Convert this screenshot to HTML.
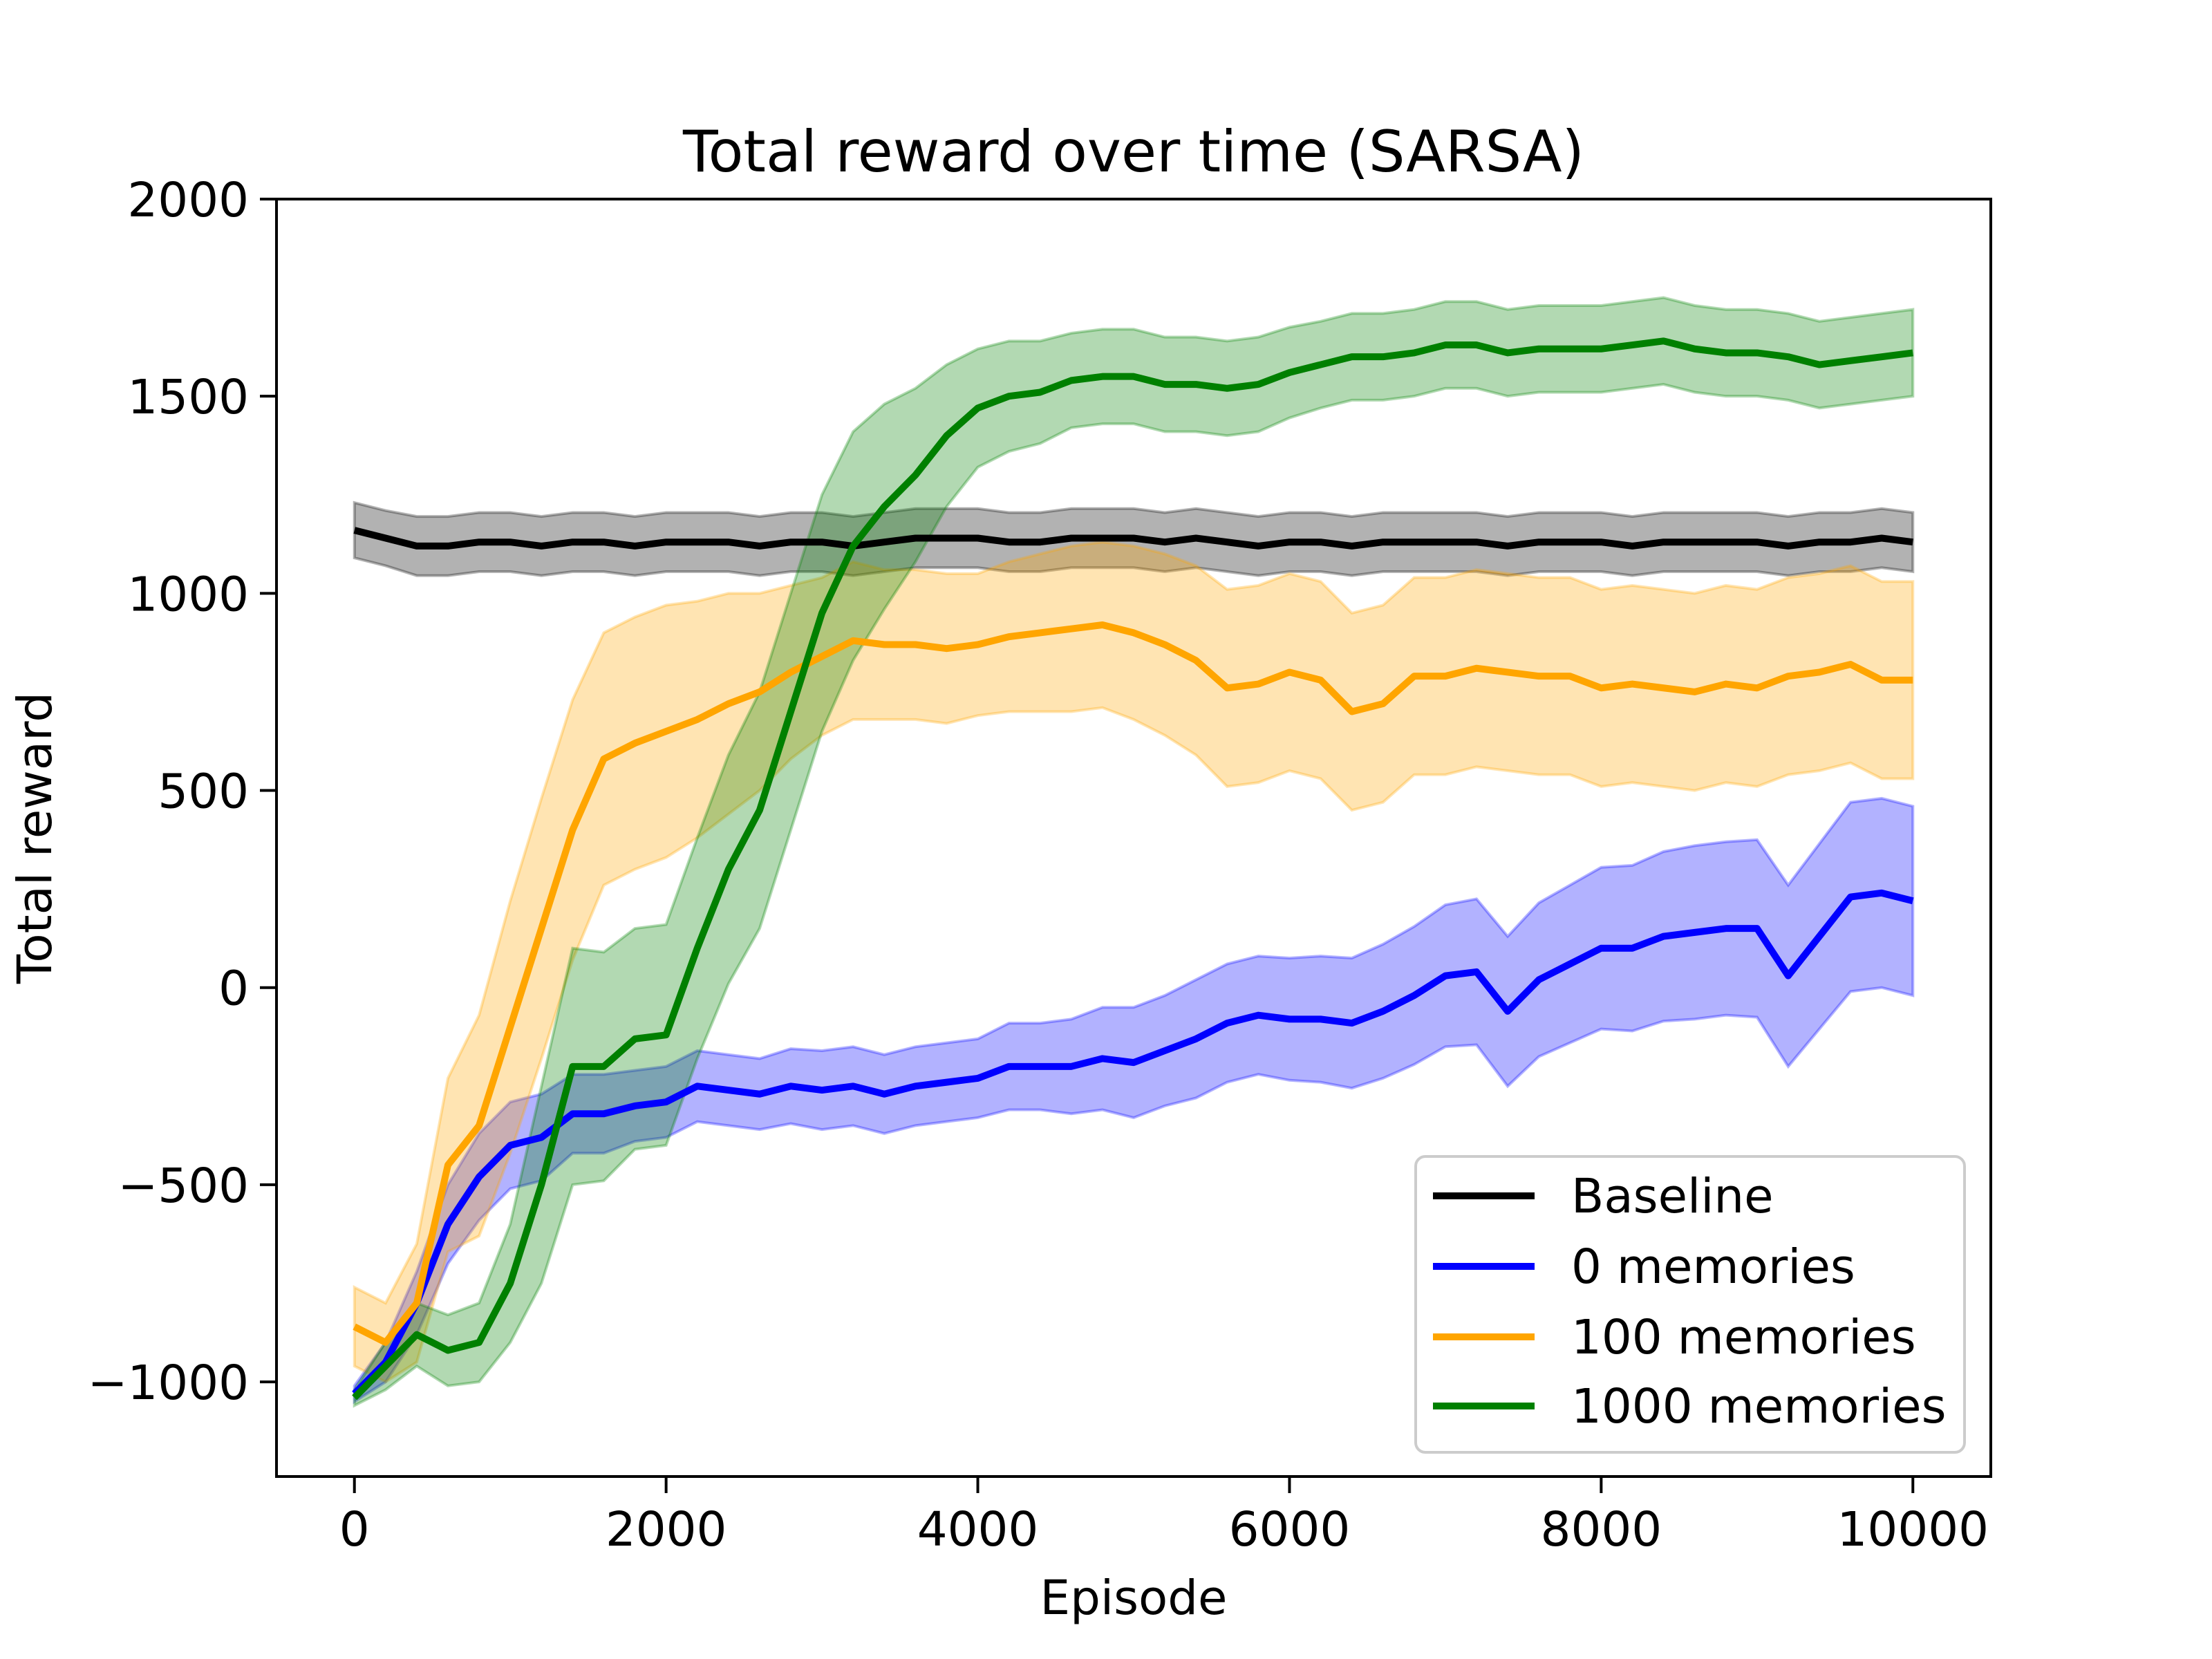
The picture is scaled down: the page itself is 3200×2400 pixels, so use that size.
<!DOCTYPE html>
<html><head><meta charset="utf-8"><style>
body{margin:0;background:#fff}
svg{display:block;font-family:"DejaVu Sans","Liberation Sans",sans-serif}
</style></head><body>
<svg id="chart" width="3200" height="2400" viewBox="0 0 3200 2400" xmlns="http://www.w3.org/2000/svg">
<rect width="3200" height="2400" fill="#fff"/>
<text x="1640" y="248" font-size="83" text-anchor="middle">Total reward over time (SARSA)</text>
<g id="plot"></g>
<text x="1640" y="2335" font-size="69" text-anchor="middle">Episode</text>
<text transform="translate(74,1212) rotate(-90)" font-size="69" text-anchor="middle">Total reward</text>
<g>
<rect x="2048" y="1673" width="794" height="428" rx="14" fill="#fff" fill-opacity="0.8" stroke="#ccc" stroke-width="4"/>
<line x1="2073" y1="1730" x2="2220" y2="1730" stroke="#000" stroke-width="10"/>
<text x="2273" y="1754" font-size="69">Baseline</text>
<line x1="2073" y1="1832" x2="2220" y2="1832" stroke="#0000ff" stroke-width="10"/>
<text x="2273" y="1856" font-size="69">0 memories</text>
<line x1="2073" y1="1934" x2="2220" y2="1934" stroke="#ffa500" stroke-width="10"/>
<text x="2273" y="1958" font-size="69">100 memories</text>
<line x1="2073" y1="2034" x2="2220" y2="2034" stroke="#008000" stroke-width="10"/>
<text x="2273" y="2058" font-size="69">1000 memories</text>
</g>
</svg>
<script>
const episodes=[0,200,400,600,800,1000,1200,1400,1600,1800,2000,2200,2400,2600,2800,3000,3200,3400,3600,3800,4000,4200,4400,4600,4800,5000,5200,5400,5600,5800,6000,6200,6400,6600,6800,7000,7200,7400,7600,7800,8000,8200,8400,8600,8800,9000,9200,9400,9600,9800,10000];
const baselineMean=[1160,1140,1120,1120,1130,1130,1120,1130,1130,1120,1130,1130,1130,1120,1130,1130,1120,1130,1140,1140,1140,1130,1130,1140,1140,1140,1130,1140,1130,1120,1130,1130,1120,1130,1130,1130,1130,1120,1130,1130,1130,1120,1130,1130,1130,1130,1120,1130,1130,1140,1130];
const baselineHalf=[70,70,75,75,75,75,75,75,75,75,75,75,75,75,75,75,75,75,75,75,75,75,75,75,75,75,75,75,75,75,75,75,75,75,75,75,75,75,75,75,75,75,75,75,75,75,75,75,75,75,75];
const blueMean=[-1030,-950,-800,-600,-480,-400,-380,-320,-320,-300,-290,-250,-260,-270,-250,-260,-250,-270,-250,-240,-230,-200,-200,-200,-180,-190,-160,-130,-90,-70,-80,-80,-90,-60,-20,30,40,-60,20,60,100,100,130,140,150,150,30,130,230,240,220];
const blueHalf=[20,50,80,100,110,110,110,100,100,90,90,90,90,90,95,100,100,100,100,100,100,110,110,120,130,140,140,150,150,150,155,160,165,170,175,180,185,190,195,200,205,210,215,220,220,225,230,235,240,240,240];
const orangeMean=[-860,-900,-800,-450,-350,-100,150,400,580,620,650,680,720,750,800,840,880,870,870,860,870,890,900,910,920,900,870,830,760,770,800,780,700,720,790,790,810,800,790,790,760,770,760,750,770,760,790,800,820,780,780];
const orangeHalf=[100,100,150,220,280,320,330,330,320,320,320,300,280,250,220,200,200,190,190,190,180,190,200,210,210,220,230,240,250,250,250,250,250,250,250,250,250,250,250,250,250,250,250,250,250,250,250,250,250,250,250];
const greenMean=[-1040,-960,-880,-920,-900,-750,-500,-200,-200,-130,-120,100,300,450,700,950,1120,1220,1300,1400,1470,1500,1510,1540,1550,1550,1530,1530,1520,1530,1560,1580,1600,1600,1610,1630,1630,1610,1620,1620,1620,1630,1640,1620,1610,1610,1600,1580,1590,1600,1610];
const greenHalf=[20,60,80,90,100,150,250,300,290,280,280,280,290,300,300,300,290,260,220,180,150,140,130,120,120,120,120,120,120,120,115,110,110,110,110,110,110,110,110,110,110,110,110,110,110,110,110,110,110,110,110];
const xTicks=[0,2000,4000,6000,8000,10000];
const yTicks=[-1000,-500,0,500,1000,1500,2000];

const L=400,R=2880,T=288,B=2136,X0=-500,X1=10500,Y0=-1240,Y1=2000;
const sx=v=>L+(v-X0)/(X1-X0)*(R-L);
const sy=v=>B-(v-Y0)/(Y1-Y0)*(B-T);
const NS="http://www.w3.org/2000/svg";
const plot=document.getElementById('plot');
function mk(tag,attrs,parent){const e=document.createElementNS(NS,tag);for(const k in attrs)e.setAttribute(k,attrs[k]);(parent||plot).appendChild(e);return e;}

const series=[
 {name:'baseline',mean:baselineMean,half:baselineHalf,color:'#000000'},
 {name:'0-memories',mean:blueMean,half:blueHalf,color:'#0000ff'},
 {name:'100-memories',mean:orangeMean,half:orangeHalf,color:'#ffa500'},
 {name:'1000-memories',mean:greenMean,half:greenHalf,color:'#008000'}
];
series.forEach(s=>{
  const up=episodes.map((e,i)=>sx(e)+','+sy(s.mean[i]+s.half[i]));
  const lo=episodes.map((e,i)=>sx(e)+','+sy(s.mean[i]-s.half[i])).reverse();
  const band=mk('polygon',{points:up.concat(lo).join(' '),fill:s.color,'fill-opacity':0.3,stroke:s.color,'stroke-opacity':0.3,'stroke-width':4});
  
  
});
series.forEach(s=>{
  const pts=episodes.map((e,i)=>sx(e)+','+sy(s.mean[i])).join(' ');
  const ln=mk('polyline',{points:pts,fill:'none',stroke:s.color,'stroke-width':10,'stroke-linejoin':'round'});
  
  
});
const frame=mk('rect',{x:L,y:T,width:R-L,height:B-T,fill:'none',stroke:'#000',"stroke-width":4});


xTicks.forEach(v=>{
  mk('line',{x1:sx(v),x2:sx(v),y1:B,y2:B+24,stroke:'#000','stroke-width':4});
  const t=mk('text',{x:sx(v),y:B+100,'font-size':69,'text-anchor':'middle'});
  t.textContent=String(v);
  
  
});
yTicks.forEach(v=>{
  mk('line',{x1:L-24,x2:L,y1:sy(v),y2:sy(v),stroke:'#000','stroke-width':4});
  const t=mk('text',{x:L-40,y:sy(v)+25,'font-size':69,'text-anchor':'end'});
  t.textContent=v<0?'\u2212'+Math.abs(v):String(v);
  
  
});
</script>
</body></html>
